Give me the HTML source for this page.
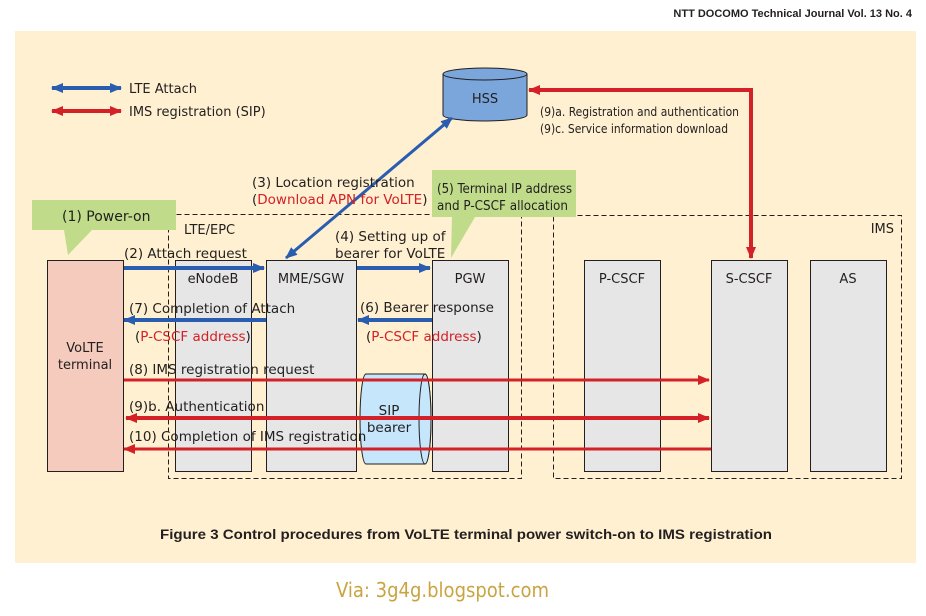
<!DOCTYPE html>
<html><head><meta charset="utf-8"><style>
html,body{margin:0;padding:0;background:#fff}
svg{display:block}
text{font-family:"DejaVu Sans","Liberation Sans",sans-serif;fill:#231f20}
</style></head><body>
<svg width="926" height="616" viewBox="0 0 926 616" xmlns="http://www.w3.org/2000/svg">
<defs>
<marker id="bh" markerWidth="12" markerHeight="10" refX="11" refY="5" orient="auto-start-reverse" markerUnits="userSpaceOnUse"><path d="M0,0 L12,5 L0,10 Z" fill="#2a5db0"/></marker>
<marker id="rh" markerWidth="12" markerHeight="10" refX="11" refY="5" orient="auto-start-reverse" markerUnits="userSpaceOnUse"><path d="M0,0 L12,5 L0,10 Z" fill="#d42027"/></marker>
</defs>
<text x="912" y="17" font-size="11" font-weight="bold" text-anchor="end" style="font-family:'Liberation Sans',sans-serif">NTT DOCOMO Technical Journal Vol. 13 No. 4</text>
<rect x="15" y="31" width="901" height="532" fill="#fef0d0"/>

<line x1="52" y1="88" x2="121" y2="88" stroke="#2a5db0" stroke-width="4" marker-start="url(#bh)" marker-end="url(#bh)"/>
<text x="129" y="93" font-size="13">LTE Attach</text>
<line x1="52" y1="111" x2="121" y2="111" stroke="#d42027" stroke-width="4" marker-start="url(#rh)" marker-end="url(#rh)"/>
<text x="129" y="116" font-size="13">IMS registration (SIP)</text>

<rect x="168.5" y="214.5" width="353" height="264" fill="none" stroke="#231f20" stroke-dasharray="5,3"/>
<rect x="553.5" y="215.5" width="348" height="263" fill="none" stroke="#231f20" stroke-dasharray="5,3"/>
<text x="184" y="234" font-size="13">LTE/EPC</text>
<text x="894" y="233" font-size="13" text-anchor="end">IMS</text>

<rect x="47.5" y="260.5" width="76" height="211" fill="#f5cbbd" stroke="#231f20"/>
<text x="85" y="352" font-size="13" text-anchor="middle">VoLTE</text>
<text x="85" y="369" font-size="13" text-anchor="middle">terminal</text>
<rect x="175.5" y="260.5" width="76" height="211" fill="#e6e6e6" stroke="#231f20"/>
<text x="213" y="283" font-size="13" text-anchor="middle">eNodeB</text>
<rect x="266.5" y="260.5" width="90" height="211" fill="#e6e6e6" stroke="#231f20"/>
<text x="311" y="283" font-size="13" text-anchor="middle">MME/SGW</text>
<rect x="432.5" y="260.5" width="76" height="211" fill="#e6e6e6" stroke="#231f20"/>
<text x="470" y="283" font-size="13" text-anchor="middle">PGW</text>
<rect x="584.5" y="260.5" width="76" height="211" fill="#e6e6e6" stroke="#231f20"/>
<text x="622" y="283" font-size="13" text-anchor="middle">P-CSCF</text>
<rect x="711.5" y="260.5" width="76" height="211" fill="#e6e6e6" stroke="#231f20"/>
<text x="749" y="283" font-size="13" text-anchor="middle">S-CSCF</text>
<rect x="810.5" y="260.5" width="76" height="211" fill="#e6e6e6" stroke="#231f20"/>
<text x="848" y="283" font-size="13" text-anchor="middle">AS</text>

<path d="M443,74 L443,115 A42,6 0 0 0 527,115 L527,74" fill="#7aa6db" stroke="#231f20"/>
<ellipse cx="485" cy="74" rx="42" ry="6" fill="#7aa6db" stroke="#231f20"/>
<text x="485" y="103" font-size="13" text-anchor="middle">HSS</text>
<polyline points="529,90 751,90 751,258" fill="none" stroke="#d42027" stroke-width="4" marker-start="url(#rh)" marker-end="url(#rh)"/>
<text x="540" y="116" font-size="12.5" textLength="199" lengthAdjust="spacingAndGlyphs" style="font-family:'DejaVu Sans Condensed','DejaVu Sans',sans-serif">(9)a. Registration and authentication</text>
<text x="540" y="133" font-size="12.5" textLength="188" lengthAdjust="spacingAndGlyphs" style="font-family:'DejaVu Sans Condensed','DejaVu Sans',sans-serif">(9)c. Service information download</text>

<line x1="452" y1="118" x2="286" y2="258" stroke="#2a5db0" stroke-width="3" marker-start="url(#bh)" marker-end="url(#bh)"/>
<text x="252" y="187" font-size="13.5">(3) Location registration</text>
<text x="252" y="204" font-size="13.5">(<tspan style="fill:#d42027">Download APN for VoLTE</tspan>)</text>

<path d="M32,200 L176,200 L176,230 L92,230 L68,255 L64,230 L32,230 Z" fill="#c0dc8a"/>
<text x="62" y="221" font-size="14">(1) Power-on</text>
<path d="M432,170 L576,170 L576,217 L475,217 L451,258 L452,217 L432,217 Z" fill="#c0dc8a"/>
<text x="437" y="193" font-size="13" textLength="135" lengthAdjust="spacingAndGlyphs" style="font-family:'DejaVu Sans Condensed','DejaVu Sans',sans-serif">(5) Terminal IP address</text>
<text x="437" y="210" font-size="13" textLength="131" lengthAdjust="spacingAndGlyphs" style="font-family:'DejaVu Sans Condensed','DejaVu Sans',sans-serif">and P-CSCF allocation</text>

<text x="124" y="258" font-size="13.5">(2) Attach request</text>
<line x1="124" y1="268" x2="264" y2="268" stroke="#2a5db0" stroke-width="4" marker-end="url(#bh)"/>
<text x="335" y="241" font-size="13.5">(4) Setting up of</text>
<text x="335" y="258" font-size="13.5">bearer for VoLTE</text>
<line x1="357" y1="268" x2="430" y2="268" stroke="#2a5db0" stroke-width="4" marker-end="url(#bh)"/>
<text x="129" y="313" font-size="13.5">(7) Completion of Attach</text>
<line x1="266" y1="320" x2="124" y2="320" stroke="#2a5db0" stroke-width="4" marker-end="url(#bh)"/>
<text x="135" y="341" font-size="13.5">(<tspan style="fill:#d42027">P-CSCF address</tspan>)</text>
<text x="360" y="312" font-size="13.5">(6) Bearer response</text>
<line x1="432" y1="320" x2="358" y2="320" stroke="#2a5db0" stroke-width="4" marker-end="url(#bh)"/>
<text x="366" y="341" font-size="13.5">(<tspan style="fill:#d42027">P-CSCF address</tspan>)</text>

<path d="M366,374 L425,374 A6,45 0 0 1 425,464 L366,464 A6,45 0 0 1 366,374 Z" fill="#c6e6fb" stroke="#231f20"/>
<ellipse cx="425" cy="419" rx="6" ry="45" fill="#c6e6fb" stroke="#231f20"/>
<text x="389" y="415" font-size="13.5" text-anchor="middle">SIP</text>
<text x="389" y="432" font-size="13.5" text-anchor="middle">bearer</text>

<text x="129" y="374" font-size="13.5">(8) IMS registration request</text>
<line x1="124" y1="380" x2="709" y2="380" stroke="#d42027" stroke-width="3" marker-end="url(#rh)"/>
<text x="129" y="411" font-size="13.5">(9)b. Authentication</text>
<line x1="126" y1="418" x2="709" y2="418" stroke="#d42027" stroke-width="4" marker-start="url(#rh)" marker-end="url(#rh)"/>
<text x="129" y="441" font-size="13.5">(10) Completion of IMS registration</text>
<line x1="711" y1="449" x2="124" y2="449" stroke="#d42027" stroke-width="3" marker-end="url(#rh)"/>

<text x="160" y="539" font-size="14" font-weight="bold" textLength="612" lengthAdjust="spacingAndGlyphs" style="font-family:'Liberation Sans',sans-serif">Figure 3  Control procedures from VoLTE terminal power switch-on to IMS registration</text>
<text x="336" y="597" font-size="20" textLength="213" lengthAdjust="spacingAndGlyphs" style="fill:#c9a441;font-family:'DejaVu Sans Condensed','DejaVu Sans',sans-serif">Via: 3g4g.blogspot.com</text>
</svg>
</body></html>
